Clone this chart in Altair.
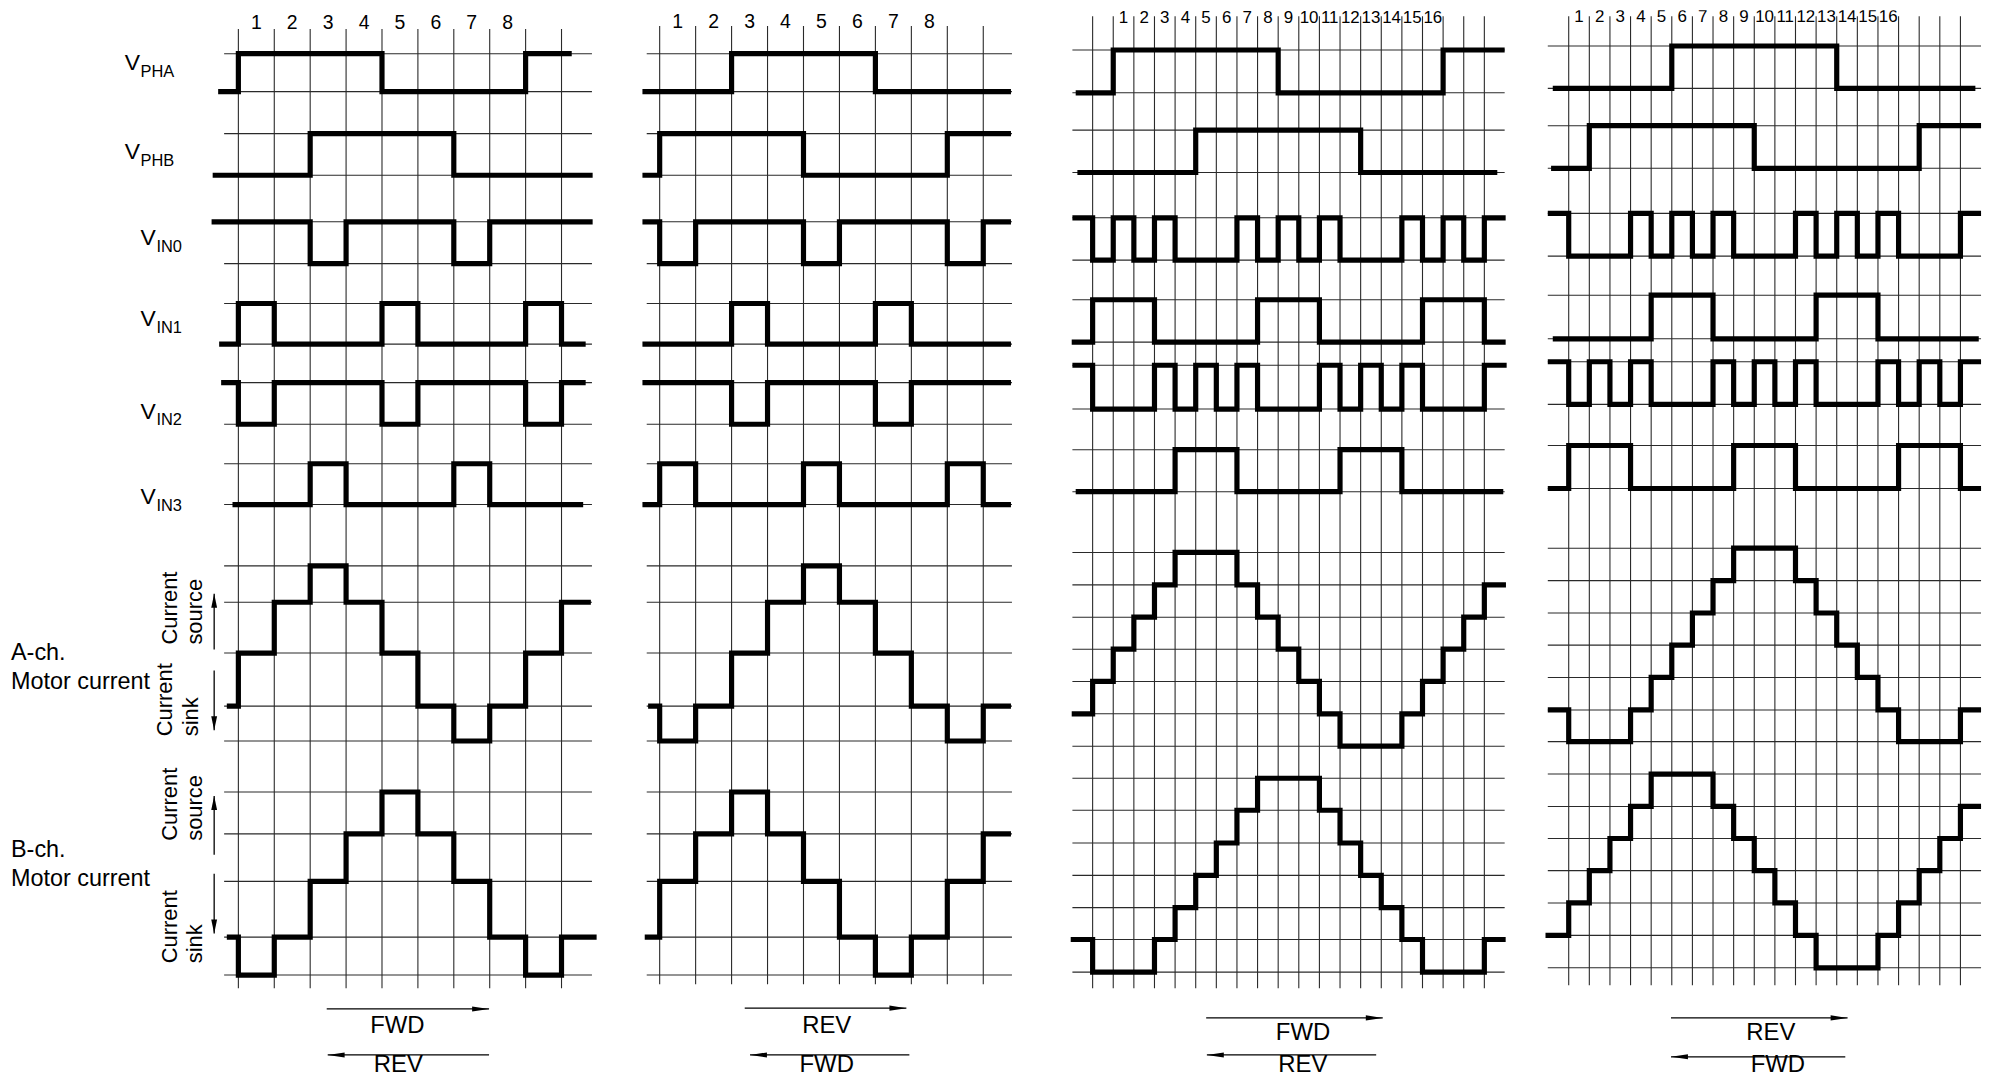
import altair as alt
import pandas as pd

# ------------------------------------------------------------------
# Values: logical state of every signal per step
# column.  Each list = [before 1st grid line, column 0 .. column N-1, after]
# logic rows: 1 = high, 0 = low ; current rows: level index (+top .. -bottom)
# ------------------------------------------------------------------
SIGNALS = ["PHA", "PHB", "IN0", "IN1", "IN2", "IN3"]

# Panel 1 : half step, FWD ->
P1_PHA = [0, 1, 1, 1, 1, 0, 0, 0, 0, 1, 1]
P1_PHB = [0, 0, 0, 1, 1, 1, 1, 0, 0, 0, 0]
P1_IN0 = [1, 1, 1, 0, 1, 1, 1, 0, 1, 1, 1]
P1_IN1 = [0, 1, 0, 0, 0, 1, 0, 0, 0, 1, 0]
P1_IN2 = [1, 0, 1, 1, 1, 0, 1, 1, 1, 0, 1]
P1_IN3 = [0, 0, 0, 1, 0, 0, 0, 1, 0, 0, 0]
P1_ACH = [-1, 0, 1, 2, 1, 0, -1, -2, -1, 0, 1]
P1_BCH = [-1, -2, -1, 0, 1, 2, 1, 0, -1, -2, -1]

# Panel 2 : half step, REV ->
P2_PHA = [0, 0, 0, 1, 1, 1, 1, 0, 0, 0, 0]
P2_PHB = [0, 1, 1, 1, 1, 0, 0, 0, 0, 1, 1]
P2_IN0 = [1, 0, 1, 1, 1, 0, 1, 1, 1, 0, 1]
P2_IN1 = [0, 0, 0, 1, 0, 0, 0, 1, 0, 0, 0]
P2_IN2 = [1, 1, 1, 0, 1, 1, 1, 0, 1, 1, 1]
P2_IN3 = [0, 1, 0, 0, 0, 1, 0, 0, 0, 1, 0]
P2_ACH = [-1, -2, -1, 0, 1, 2, 1, 0, -1, -2, -1]
P2_BCH = [-1, 0, 1, 2, 1, 0, -1, -2, -1, 0, 1]

# Panel 3 : quarter step, FWD ->
P3_PHA = [0, 0, 1, 1, 1, 1, 1, 1, 1, 1, 0, 0, 0, 0, 0, 0, 0, 0, 1, 1, 1]
P3_PHB = [0, 0, 0, 0, 0, 0, 1, 1, 1, 1, 1, 1, 1, 1, 0, 0, 0, 0, 0, 0, 0]
P3_IN0 = [1, 0, 1, 0, 1, 0, 0, 0, 1, 0, 1, 0, 1, 0, 0, 0, 1, 0, 1, 0, 1]
P3_IN1 = [0, 1, 1, 1, 0, 0, 0, 0, 0, 1, 1, 1, 0, 0, 0, 0, 0, 1, 1, 1, 0]
P3_IN2 = [1, 0, 0, 0, 1, 0, 1, 0, 1, 0, 0, 0, 1, 0, 1, 0, 1, 0, 0, 0, 1]
P3_IN3 = [0, 0, 0, 0, 0, 1, 1, 1, 0, 0, 0, 0, 0, 1, 1, 1, 0, 0, 0, 0, 0]
P3_ACH = [-2, -1, 0, 1, 2, 3, 3, 3, 2, 1, 0, -1, -2, -3, -3, -3, -2, -1, 0, 1, 2]
P3_BCH = [-2, -3, -3, -3, -2, -1, 0, 1, 2, 3, 3, 3, 2, 1, 0, -1, -2, -3, -3, -3, -2]

# Panel 4 : quarter step, REV ->
P4_PHA = [0, 0, 0, 0, 0, 0, 1, 1, 1, 1, 1, 1, 1, 1, 0, 0, 0, 0, 0, 0, 0]
P4_PHB = [0, 0, 1, 1, 1, 1, 1, 1, 1, 1, 0, 0, 0, 0, 0, 0, 0, 0, 1, 1, 1]
P4_IN0 = [1, 0, 0, 0, 1, 0, 1, 0, 1, 0, 0, 0, 1, 0, 1, 0, 1, 0, 0, 0, 1]
P4_IN1 = [0, 0, 0, 0, 0, 1, 1, 1, 0, 0, 0, 0, 0, 1, 1, 1, 0, 0, 0, 0, 0]
P4_IN2 = [1, 0, 1, 0, 1, 0, 0, 0, 1, 0, 1, 0, 1, 0, 0, 0, 1, 0, 1, 0, 1]
P4_IN3 = [0, 1, 1, 1, 0, 0, 0, 0, 0, 1, 1, 1, 0, 0, 0, 0, 0, 1, 1, 1, 0]
P4_ACH = [-2, -3, -3, -3, -2, -1, 0, 1, 2, 3, 3, 3, 2, 1, 0, -1, -2, -3, -3, -3, -2]
P4_BCH = [-2, -1, 0, 1, 2, 3, 3, 3, 2, 1, 0, -1, -2, -3, -3, -3, -2, -1, 0, 1, 2]

TICKS_8 = ["1", "2", "3", "4", "5", "6", "7", "8"]
TICKS_16 = ["1", "2", "3", "4", "5", "6", "7", "8", "9", "10", "11", "12",
            "13", "14", "15", "16"]

DIRS = [("FWD", "REV"), ("REV", "FWD"), ("FWD", "REV"), ("REV", "FWD")]

# ------------------------------------------------------------------
# Layout (diagram geometry, in page units)
# ------------------------------------------------------------------
H = 1071
TOP = 8
FONT = "Liberation Sans"
WAVE_W = 5.2
GRID_C = "#2a2a2a"

ROWS_12 = {"PHA": (51.7, 89.8), "PHB": (132, 173.8), "IN0": (220.5, 262.5),
           "IN1": (302.5, 343.3), "IN2": (382, 423.8), "IN3": (463.4, 504.4)}
ROWS_3 = {"PHA": (48, 91), "PHB": (128.5, 171), "IN0": (216.5, 259),
          "IN1": (298.8, 341.3), "IN2": (364.5, 408.5), "IN3": (449.3, 491.5)}
ROWS_4 = {"PHA": (44, 86.5), "PHB": (124, 166.8), "IN0": (212, 255),
          "IN1": (294.2, 338), "IN2": (361, 403.8), "IN3": (445.1, 488.3)}

LAYOUT = [
    dict(x0=8, width=604, L1=239.3, step=36.05, ncol=9, top_level=2,
         rows=ROWS_12,
         curA=[566, 602.5, 653.5, 706.8, 741.8],
         curB=[793, 835, 882.7, 938.7, 976.8],
         starts=[219, 213.5, 212.4, 220, 222, 233.4, 227.7, 227.7],
         ends=[574, 595, 595, 588, 588, 585.5, 593.2, 599],
         hx=(225, 594.3), vy=(27, 990),
         ticks=TICKS_8, tick_cols=list(range(0, 8)), tick_y=26.5, tick_fs=19.5,
         arrow_top=(328, 491, 1010.8), arrow_bot=(329, 491, 1057),
         text_top=(399, 1034.5), text_bot=(400, 1074)),
    dict(x0=612, width=428, L1=662.3, step=36.1, ncol=9, top_level=2,
         rows=ROWS_12,
         curA=[566, 602.5, 653.5, 706.8, 741.8],
         curB=[793, 835, 882.7, 938.7, 976.8],
         starts=[645, 645, 645, 645, 645, 645, 650.7, 647.3],
         ends=[1015] * 8,
         hx=(649.3, 1016), vy=(24, 986),
         ticks=TICKS_8, tick_cols=list(range(0, 8)), tick_y=26, tick_fs=19.5,
         arrow_top=(747.7, 910, 1010), arrow_bot=(753, 913, 1057),
         text_top=(830, 1034.5), text_bot=(830, 1074)),
    dict(x0=1040, width=490, L1=1097, step=20.7, ncol=19, top_level=3,
         rows=ROWS_3,
         curA=[552.5, 585, 617.5, 649.6, 682, 714.5, 747],
         curB=[779.2, 811.3, 844.2, 876.7, 909.1, 941.1, 973.9],
         starts=[1080, 1081.7, 1076.7, 1076, 1076.7, 1080, 1076, 1075],
         ends=[1510.7, 1503.3, 1511.7, 1511.7, 1512.7, 1509.3, 1512, 1511.7],
         hx=(1076.7, 1510.7), vy=(14, 990),
         ticks=TICKS_16, tick_cols=list(range(1, 17)), tick_y=21.3, tick_fs=17,
         arrow_top=(1211, 1388.3, 1019.8), arrow_bot=(1211.7, 1381.7, 1057),
         text_top=(1308.3, 1042), text_bot=(1308, 1074)),
    dict(x0=1530, width=460, L1=1575, step=20.7, ncol=19, top_level=3,
         rows=ROWS_4,
         curA=[548.2, 580.8, 613.3, 645.5, 678, 710.6, 742.4],
         curB=[775, 807.5, 839.7, 871.9, 904.4, 937, 969.5],
         starts=[1559, 1557.3, 1554, 1559, 1554, 1554, 1554, 1551.7],
         ends=[1983.3, 1989, 1989, 1986.7, 1989, 1989, 1989, 1989],
         hx=(1554, 1989), vy=(14, 987),
         ticks=TICKS_16, tick_cols=list(range(0, 16)), tick_y=20.2, tick_fs=17,
         arrow_top=(1677.7, 1855, 1019.8), arrow_bot=(1677.7, 1852.7, 1058.9),
         text_top=(1778, 1042), text_bot=(1785, 1074)),
]

STATES = [
    [P1_PHA, P1_PHB, P1_IN0, P1_IN1, P1_IN2, P1_IN3, P1_ACH, P1_BCH],
    [P2_PHA, P2_PHB, P2_IN0, P2_IN1, P2_IN2, P2_IN3, P2_ACH, P2_BCH],
    [P3_PHA, P3_PHB, P3_IN0, P3_IN1, P3_IN2, P3_IN3, P3_ACH, P3_BCH],
    [P4_PHA, P4_PHB, P4_IN0, P4_IN1, P4_IN2, P4_IN3, P4_ACH, P4_BCH],
]

# left-side labels of panel 1 (page units)
V_BASE = {"PHA": 68, "PHB": 157, "IN0": 244, "IN1": 325, "IN2": 418, "IN3": 504}
RIGHT_ARROW = "M-1,-0.3L1,0L-1,0.3Z"
LEFT_ARROW = "M1,-0.3L-1,0L1,0.3Z"
UP_ARROW = "M-0.42,1L0,-1L0.42,1Z"
DOWN_ARROW = "M-0.42,-1L0,1L0.42,-1Z"


def build_panel(idx):
    cfg = LAYOUT[idx]
    states = STATES[idx]
    step, L1 = cfg["step"], cfg["L1"]

    def T(px):
        return (px - L1) / step

    xs = alt.Scale(domain=[T(cfg["x0"]), T(cfg["x0"] + cfg["width"])], nice=False, zero=False)
    ys = alt.Scale(domain=[TOP, TOP + H], reverse=True, nice=False, zero=False)

    def X(f):
        return alt.X(f, type="quantitative", scale=xs, axis=None)

    def Y(f):
        return alt.Y(f, type="quantitative", scale=ys, axis=None)

    layers = []

    # grid
    hlines = [v for s in SIGNALS for v in cfg["rows"][s]] + cfg["curA"] + cfg["curB"]
    hg = pd.DataFrame({"y": hlines, "t0": T(cfg["hx"][0]), "t1": T(cfg["hx"][1])})
    layers.append(alt.Chart(hg).mark_rule(color=GRID_C, strokeWidth=1.1).encode(
        x=X("t0"), x2="t1", y=Y("y")))
    vg = pd.DataFrame({"t": [float(k) for k in range(cfg["ncol"] + 1)],
                       "y0": cfg["vy"][0], "y1": cfg["vy"][1]})
    layers.append(alt.Chart(vg).mark_rule(color=GRID_C, strokeWidth=1.1).encode(
        x=X("t"), y=Y("y0"), y2="y1"))

    # waveforms
    recs = []
    names = SIGNALS + ["A", "B"]
    for si, name in enumerate(names):
        st = states[si]
        xs_ = [T(cfg["starts"][si])] + [float(k) for k in range(cfg["ncol"] + 1)] + [T(cfg["ends"][si])]
        vals = list(st) + [st[-1]]
        for i, (t, v) in enumerate(zip(xs_, vals)):
            if name in SIGNALS:
                hi, lo = cfg["rows"][name]
                y = hi if v == 1 else lo
            else:
                lines = cfg["curA"] if name == "A" else cfg["curB"]
                y = lines[cfg["top_level"] - v]
            recs.append({"sig": name, "i": i, "t": t, "y": y})
    wdf = pd.DataFrame(recs)
    layers.append(alt.Chart(wdf).mark_line(
        interpolate="step-after", color="black", strokeWidth=WAVE_W,
        strokeJoin="miter", strokeCap="butt").encode(
        x=X("t"), y=Y("y"), detail="sig:N", order="i:Q"))

    # column numbers
    tdf = pd.DataFrame({"t": [c + 0.5 for c in cfg["tick_cols"]],
                        "y": cfg["tick_y"], "label": cfg["ticks"]})
    layers.append(alt.Chart(tdf).mark_text(
        font=FONT, fontSize=cfg["tick_fs"], baseline="alphabetic", align="center",
        color="black", clip=True).encode(x=X("t"), y=Y("y"), text="label:N"))

    # direction arrows
    top_lbl, bot_lbl = DIRS[idx]
    at, ab = cfg["arrow_top"], cfg["arrow_bot"]
    adf = pd.DataFrame({"t0": [T(at[0]), T(ab[0])], "t1": [T(at[1]), T(ab[1])],
                        "y": [at[2], ab[2]]})
    layers.append(alt.Chart(adf).mark_rule(color="black", strokeWidth=1.3).encode(
        x=X("t0"), x2="t1", y=Y("y")))
    layers.append(alt.Chart(pd.DataFrame({"t": [T(at[1])], "y": [at[2]]})).mark_point(
        shape=RIGHT_ARROW, size=289, filled=True, color="black", opacity=1,
        strokeWidth=0, xOffset=-8.5).encode(x=X("t"), y=Y("y")))
    layers.append(alt.Chart(pd.DataFrame({"t": [T(ab[0])], "y": [ab[2]]})).mark_point(
        shape=LEFT_ARROW, size=289, filled=True, color="black", opacity=1,
        strokeWidth=0, xOffset=8.5).encode(x=X("t"), y=Y("y")))
    ddf = pd.DataFrame({"t": [T(cfg["text_top"][0]), T(cfg["text_bot"][0])],
                        "y": [cfg["text_top"][1], cfg["text_bot"][1]],
                        "label": [top_lbl, bot_lbl]})
    layers.append(alt.Chart(ddf).mark_text(
        font=FONT, fontSize=24, baseline="alphabetic", align="center",
        color="black").encode(x=X("t"), y=Y("y"), text="label:N"))

    if idx == 0:
        # V labels with subscripts
        vx = {s: (140.5 if s.startswith("PH") else 156.5) for s in SIGNALS}
        vdf = pd.DataFrame({"t": [T(vx[s]) for s in SIGNALS],
                            "y": [V_BASE[s] for s in SIGNALS], "label": ["V"] * 6})
        layers.append(alt.Chart(vdf).mark_text(
            font=FONT, fontSize=23, baseline="alphabetic", align="right",
            color="black").encode(x=X("t"), y=Y("y"), text="label:N"))
        sdf = pd.DataFrame({"t": [T(vx[s] + 0.5) for s in SIGNALS],
                            "y": [V_BASE[s] + 7 for s in SIGNALS], "label": SIGNALS})
        layers.append(alt.Chart(sdf).mark_text(
            font=FONT, fontSize=16.5, baseline="alphabetic", align="left",
            color="black").encode(x=X("t"), y=Y("y"), text="label:N"))
        # channel names
        cdf = pd.DataFrame({"t": [T(11)] * 4, "y": [660, 690, 858, 887],
                            "label": ["A-ch.", "Motor current", "B-ch.", "Motor current"]})
        layers.append(alt.Chart(cdf).mark_text(
            font=FONT, fontSize=23.5, baseline="alphabetic", align="left",
            color="black").encode(x=X("t"), y=Y("y"), text="label:N"))
        # rotated current source / sink labels
        rdf = pd.DataFrame({
            "t": [T(178), T(203), T(172.2), T(199), T(178), T(203), T(178), T(203)],
            "y": [645, 645, 737, 737, 842, 842, 965, 965],
            "label": ["Current", "source", "Current", "sink",
                      "Current", "source", "Current", "sink"]})
        layers.append(alt.Chart(rdf).mark_text(
            font=FONT, fontSize=22, baseline="alphabetic", align="left", angle=270,
            color="black").encode(x=X("t"), y=Y("y"), text="label:N"))
        # small source / sink arrows
        sx = T(215)
        up = pd.DataFrame({"t": [sx, sx], "y0": [650, 856], "y1": [594, 797]})
        dn = pd.DataFrame({"t": [sx, sx], "y0": [671, 875], "y1": [731, 935]})
        for df_, shp, off in ((up, UP_ARROW, 7), (dn, DOWN_ARROW, -7)):
            layers.append(alt.Chart(df_).mark_rule(color="black", strokeWidth=1.3).encode(
                x=X("t"), y=Y("y0"), y2="y1"))
            layers.append(alt.Chart(df_).mark_point(
                shape=shp, size=196, filled=True, color="black", opacity=1,
                strokeWidth=0, yOffset=off).encode(x=X("t"), y=Y("y1")))

    return alt.layer(*layers).properties(width=cfg["width"], height=H)


panels = [build_panel(i) for i in range(4)]
chart = alt.hconcat(*panels, spacing=0).resolve_scale(
    x="independent", y="independent").properties(padding=0).configure_view(stroke=None)

chart.save("out.html", embed_options={"renderer": "svg", "actions": False})
